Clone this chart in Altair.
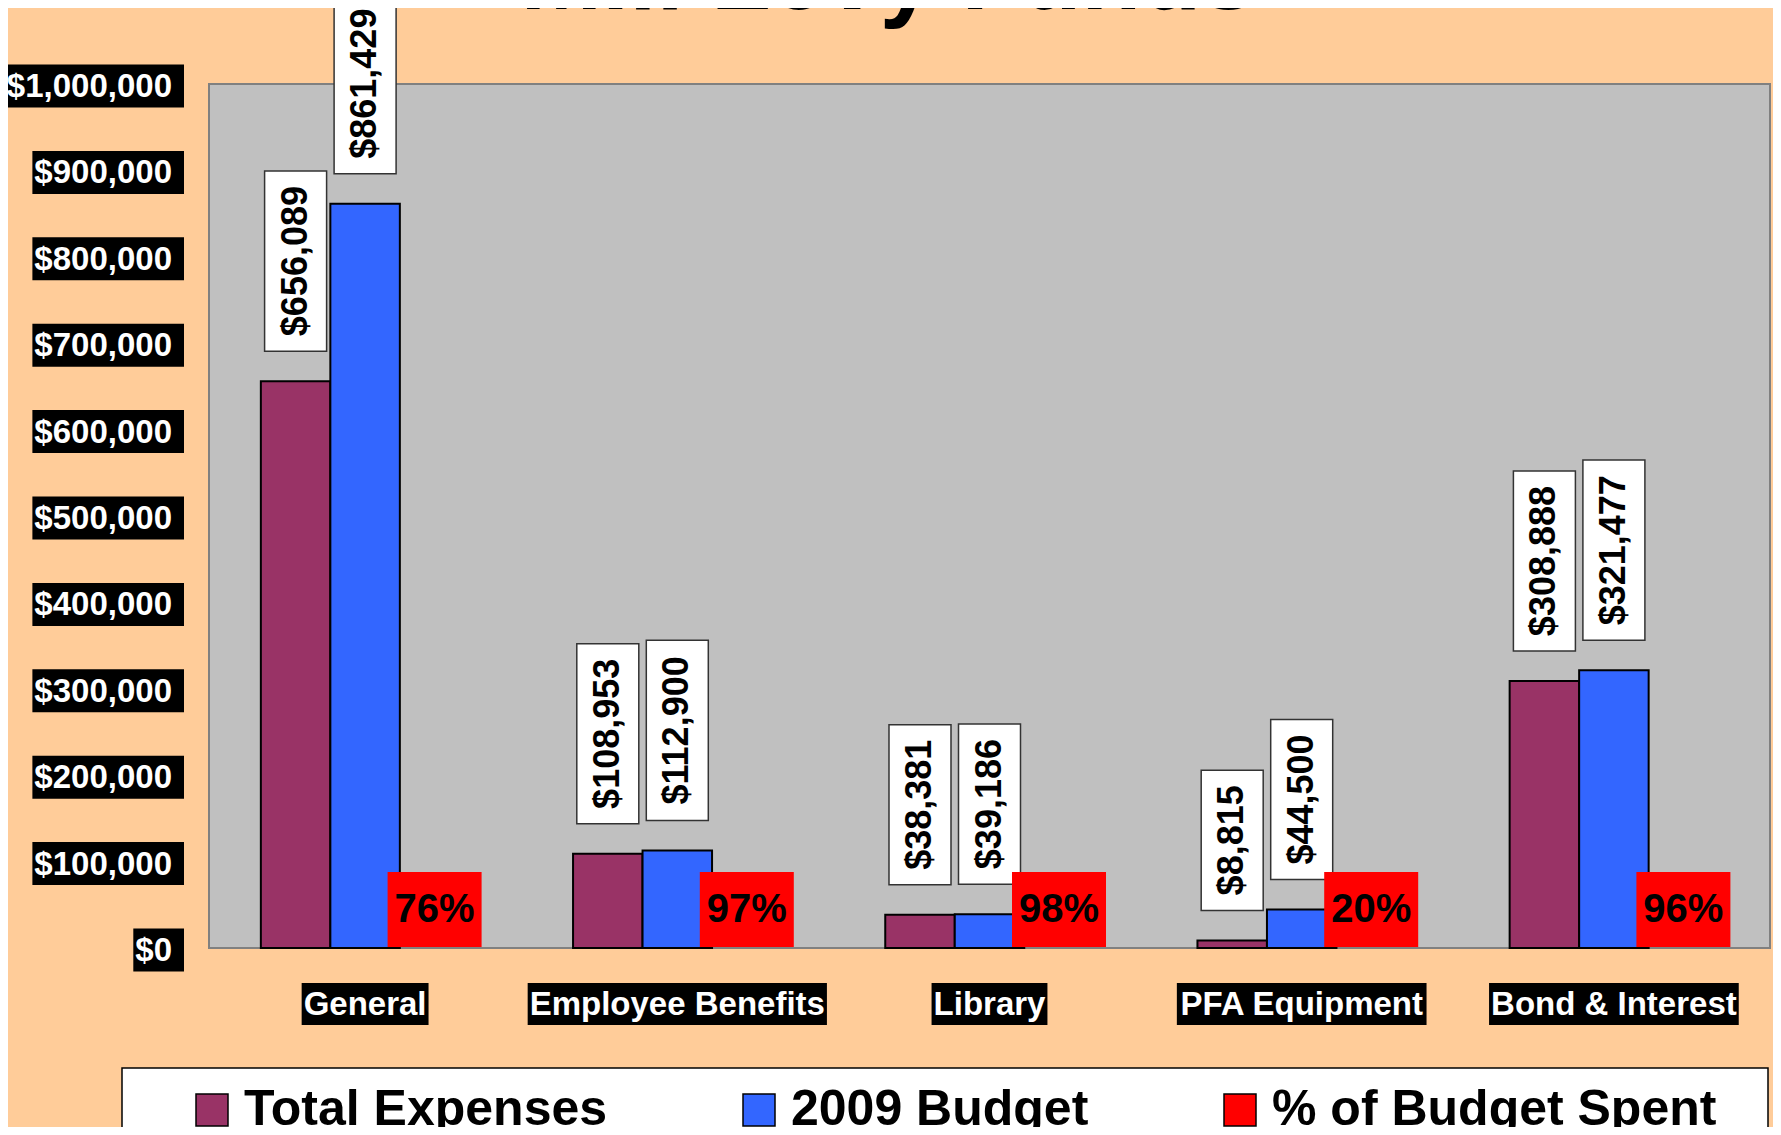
import altair as alt
import pandas as pd

# ---------------- data ----------------
CATEGORIES = ["General", "Employee Benefits", "Library", "PFA Equipment", "Bond & Interest"]
TOTAL_EXPENSES = [656089, 108953, 38381, 8815, 308888]
BUDGET_2009 = [861429, 112900, 39186, 44500, 321477]
PCT_SPENT = [0.76, 0.97, 0.98, 0.20, 0.96]
SERIES = ["Total Expenses", "2009 Budget", "% of Budget Spent"]
COLORS = ["#993366", "#3366FF", "#FF0000"]
Y_TICKS = [0, 100000, 200000, 300000, 400000, 500000, 600000, 700000, 800000, 900000, 1000000]
Y_TICK_LABELS = ["$0", "$100,000", "$200,000", "$300,000", "$400,000", "$500,000",
                 "$600,000", "$700,000", "$800,000", "$900,000", "$1,000,000"]
TITLE = "Mill Levy Funds"

# ---------------- layout / style ----------------
FONT = "Liberation Sans"
W, H = 1561, 864
PX = 1_000_000 / H  # data units per pixel on the y scale

# Arial-bold advance widths (per 1000 em) for sizing text backgrounds
_AW = {" ": 278, "$": 556, "%": 889, "&": 722, ",": 278, ".": 278,
       "A": 722, "B": 722, "E": 667, "F": 611, "G": 778, "I": 278, "L": 611, "M": 833, "P": 667,
       "a": 556, "b": 611, "d": 611, "e": 556, "f": 333, "i": 278, "l": 278, "m": 889, "n": 611,
       "o": 611, "p": 611, "q": 611, "r": 389, "s": 556, "t": 333, "u": 611, "y": 556}


def text_w(s, size):
    return sum(_AW.get(c, 556) for c in s) / 1000 * size


# ---------------- tables ----------------
rows = []
for i, c in enumerate(CATEGORIES):
    for s, v in ((SERIES[0], TOTAL_EXPENSES[i]), (SERIES[1], BUDGET_2009[i])):
        lab = f"${v:,}"
        L = text_w(lab, 36) + 30
        lo = v + 30 * PX
        hi = lo + L * PX
        rows.append(dict(cat=c, series=s, value=v, label=lab, lo=lo, hi=hi, mid=(lo + hi) / 2))
bars = pd.DataFrame(rows)

pct = pd.DataFrame(dict(cat=CATEGORIES, series=SERIES[2],
                        plabel=[f"{round(p * 100)}%" for p in PCT_SPENT]))

xlab = pd.DataFrame(dict(cat=CATEGORIES, bw=[text_w(c, 33) + 4 for c in CATEGORIES]))

ylab = pd.DataFrame(dict(v=Y_TICKS, lab=Y_TICK_LABELS,
                         bl=[-37 - text_w(l, 33) - 2 for l in Y_TICK_LABELS]))

one = pd.DataFrame([{"t": TITLE}])

X = alt.X("cat:N", sort=CATEGORIES, title=None,
          scale=alt.Scale(paddingInner=0, paddingOuter=0),
          axis=alt.Axis(labels=False, tickBand="extent", ticks=True, tickColor="black",
                        tickSize=12, tickWidth=1, domainColor="black", domainWidth=2,
                        grid=False, title=None))
XN = alt.X("cat:N", sort=CATEGORIES, title=None, axis=None)
XOFF = alt.XOffset("series:N", sort=SERIES,
                   scale=alt.Scale(domain=SERIES, paddingInner=0, paddingOuter=0.746))
YS = alt.Scale(domain=[0, 1000000], nice=False, zero=True)

base = alt.Chart(bars)

bar_layer = base.mark_bar(stroke="black", strokeWidth=2).encode(
    x=X,
    xOffset=XOFF,
    y=alt.Y("value:Q", scale=YS, title=None,
            axis=alt.Axis(values=Y_TICKS, labels=False, grid=True, gridColor="#333333",
                          gridWidth=1, tickColor="#FFFFFF", tickSize=9, domain=False,
                          title=None)),
    color=alt.Color("series:N", scale=alt.Scale(domain=SERIES, range=COLORS),
                    legend=alt.Legend(title=None, orient="none", legendX=-22, legendY=1001,
                                      direction="horizontal", columns=3,
                                      symbolType="square", symbolSize=1024,
                                      symbolStrokeColor="black", symbolStrokeWidth=1.5,
                                      symbolOpacity=1, labelFontSize=50, labelFont=FONT,
                                      labelFontWeight="bold", labelColor="black",
                                      labelOffset=7, columnPadding=126, padding=0,
                                      labelLimit=0)),
)

label_box = base.mark_bar(width=62, fill="white", stroke="#333333", strokeWidth=1.5).encode(
    x=XN, xOffset=XOFF,
    y=alt.Y("lo:Q", scale=YS, axis=None), y2="hi:Q",
)

label_text = base.mark_text(angle=270, fontSize=36, font=FONT, fontWeight="bold",
                            color="black", align="center", baseline="middle").encode(
    x=XN, xOffset=XOFF,
    y=alt.Y("mid:Q", scale=YS, axis=None),
    text="label:N",
)

pct_box = alt.Chart(pct).mark_bar(width=94, color="#FF0000").encode(
    x=XN, xOffset=XOFF, y=alt.value(788), y2=alt.value(863),
)
pct_text = alt.Chart(pct).mark_text(fontSize=40, font=FONT, fontWeight="bold", color="black",
                                    baseline="middle").encode(
    x=XN, xOffset=XOFF, y=alt.value(826), text="plabel:N",
)

xlab_box = alt.Chart(xlab).mark_rule(color="black", strokeCap="butt").encode(
    x=XN, y=alt.value(899), y2=alt.value(941),
    strokeWidth=alt.StrokeWidth("bw:Q", scale=None, legend=None),
)
xlab_text = alt.Chart(xlab).mark_text(fontSize=33, font=FONT, fontWeight="bold", color="white",
                                      baseline="middle").encode(
    x=XN, y=alt.value(921), text="cat:N",
)

ylab_box = alt.Chart(ylab).mark_rule(color="black", strokeWidth=43, strokeCap="butt",
                                     yOffset=2).encode(
    x=alt.X("bl:Q", scale=None, axis=None), x2=alt.value(-25),
    y=alt.Y("v:Q", scale=YS, axis=None),
)
ylab_text = alt.Chart(ylab).mark_text(fontSize=33, font=FONT, fontWeight="bold", color="white",
                                      align="right", baseline="middle", dy=3).encode(
    x=alt.value(-37), y=alt.Y("v:Q", scale=YS, axis=None), text="lab:N",
)

legend_box = alt.Chart(one).mark_rect(fill="white", stroke="black", strokeWidth=1.5).encode(
    x=alt.value(-87), x2=alt.value(1559), y=alt.value(984), y2=alt.value(1080),
)

title = alt.Chart(one).mark_text(fontSize=98, font=FONT, fontWeight="bold", color="black",
                                 align="center", baseline="alphabetic").encode(
    x=alt.value(679), y=alt.value(-75), text="t:N",
)

chart = alt.layer(
    legend_box, bar_layer, label_box, label_text, pct_box, pct_text,
    xlab_box, xlab_text, ylab_box, ylab_text, title,
).properties(
    width=W, height=H,
    autosize=alt.AutoSizeParams(type="none"),
    padding={"left": 201, "top": 76, "right": 3, "bottom": 179},
    background="#FFCC99",
).configure_view(
    fill="#C0C0C0", stroke="#808080", strokeWidth=2,
)

chart.save("out.html", embed_options={"renderer": "svg", "actions": False})
